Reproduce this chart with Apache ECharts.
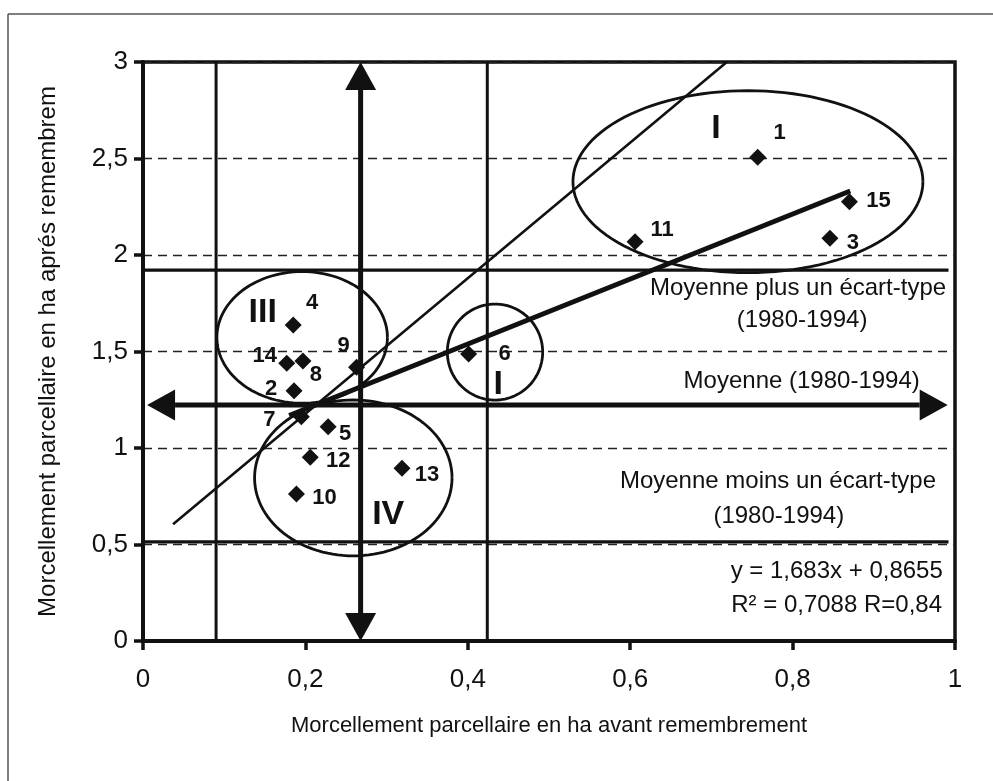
<!DOCTYPE html>
<html><head><meta charset="utf-8">
<script src="https://cdn.jsdelivr.net/npm/echarts@6/dist/echarts.min.js"></script>
<style>html,body{margin:0;padding:0;background:#fff}#c{width:993px;height:781px}</style>
</head><body><div id="c"></div>
<script>
// ---------------- DATA ----------------
const pointNames = ['1','2','3','4','5','6','7','8','9','10','11','12','13','14','15'];
const pointX = [0.757,0.186,0.846,0.185,0.228,0.401,0.195,0.197,0.263,0.189,0.606,0.206,0.319,0.177,0.870];
const pointY = [2.506,1.297,2.087,1.637,1.110,1.487,1.162,1.451,1.418,0.762,2.069,0.952,0.895,1.439,2.276];
const xTicks = [0,0.2,0.4,0.6,0.8,1];
const yTicks = [0,0.5,1,1.5,2,2.5,3];
const regSlope = 1.683, regIntercept = 0.8655;
const regXRange = [0.18, 0.871];
const regEquation = 'y = 1,683x + 0,8655';
const regCoef = 'R² = 0,7088 R=0,84';
const meanY = 1.223, meanPlusSD = 1.922, meanMinusSD = 0.514;
const meanX = 0.268;
const verticalRefs = [0.09, 0.424];
const refXEnd = 0.992;
const diagonalLine = [[0.037, 0.605], [0.719, 3.0]];
const groupNames = ['I','III','IV','I'];
const groupCX = [0.745, 0.196, 0.259, 0.4335];
const groupCY = [2.380, 1.573, 0.845, 1.497];
const groupRX = [0.2155, 0.105, 0.1216, 0.0587];
const groupRY = [0.4715, 0.341, 0.404, 0.2487];
const noteTexts = ['Moyenne plus un écart-type','(1980-1994)','Moyenne (1980-1994)','Moyenne moins un écart-type','(1980-1994)', regEquation, regCoef];
const xTitle = 'Morcellement parcellaire en ha avant remembrement';
const yTitle = 'Morcellement parcellaire en ha aprés remembrem';

// ---------------- LAYOUT / STYLE ----------------
const FONT = '"Liberation Sans", Arial, sans-serif';
const INK = '#111';
const labelOffsets = [[22,-24],[-23,-2],[23,5],[19,-22],[17,7],[36,0],[-32,3],[13,14],[-13,-21],[28,4],[27,-12],[28,4],[25,7],[-22,-7],[29,-1]];
const groupLabelPos = [[0.7057,2.653],[0.1474,1.70],[0.302,0.653],[0.4376,1.326]];
const notePos = [[0.8067,1.829,'center'],[0.8116,1.663,'center'],[0.8112,1.3435,'center'],[0.782,0.825,'center'],[0.783,0.644,'center'],[0.985,0.359,'right'],[0.984,0.1865,'right']];

const fmt = v => String(+v.toFixed(2)).replace('.', ',');

const scatterData = pointNames.map((n, i) => ({
  name: n, value: [pointX[i], pointY[i]],
  label: { offset: labelOffsets[i] }
}));

const ellipseData = groupNames.map((n, i) => [groupCX[i], groupCY[i], groupRX[i], groupRY[i]]);
const groupLabelData = groupNames.map((n, i) => [groupLabelPos[i][0], groupLabelPos[i][1], i]);
const noteData = noteTexts.map((t, i) => [notePos[i][0], notePos[i][1], i]);
const arrowData = [[0.005, meanY, refXEnd - 0.001, meanY], [meanX, 0, meanX, 3]];

function lineSeries(data, width) {
  return { type: 'line', data: data, showSymbol: false, symbol: 'none', silent: true,
    lineStyle: { color: INK, width: width, type: 'solid', opacity: 1 }, z: 3, clip: false };
}

const option = {
  animation: false,
  backgroundColor: '#fff',
  grid: { left: 143, right: 38, top: 62, bottom: 140, show: true, borderColor: INK, borderWidth: 3.5, backgroundColor: 'transparent' },
  xAxis: {
    type: 'value', min: 0, max: 1, interval: 0.2,
    name: xTitle, nameLocation: 'middle', nameGap: 74,
    nameTextStyle: { fontFamily: FONT, fontSize: 22, color: INK },
    axisLine: { lineStyle: { color: INK, width: 4 } },
    axisTick: { show: true, length: 9, lineStyle: { color: INK, width: 3.5 } },
    axisLabel: { fontFamily: FONT, fontSize: 26, color: INK, margin: 26, formatter: v => fmt(xTicks.find(t => Math.abs(t - v) < 1e-9) ?? v) },
    splitLine: { show: false }
  },
  yAxis: {
    type: 'value', min: 0, max: 3, interval: 0.5,
    name: yTitle, nameLocation: 'middle', nameGap: 83, nameRotate: 90,
    nameTextStyle: { fontFamily: FONT, fontSize: 24, color: INK },
    axisLine: { lineStyle: { color: INK, width: 4 } },
    axisTick: { show: true, length: 9, lineStyle: { color: INK, width: 3.5 } },
    axisLabel: { fontFamily: FONT, fontSize: 26, color: INK, margin: 15, formatter: v => fmt(yTicks.find(t => Math.abs(t - v) < 1e-9) ?? v) },
    splitLine: { show: true, lineStyle: { color: '#222', width: 1.4, type: [9, 6] } }
  },
  graphic: [
    { type: 'line', shape: { x1: 8, y1: 14, x2: 8, y2: 781 }, style: { stroke: '#555', lineWidth: 1.5 }, silent: true },
    { type: 'line', shape: { x1: 8, y1: 14, x2: 993, y2: 14 }, style: { stroke: '#555', lineWidth: 1.5 }, silent: true }
  ],
  series: [
    // ellipses
    {
      type: 'custom', silent: true, clip: false, z: 2,
      data: ellipseData, encode: { x: 0, y: 1 },
      renderItem: (params, api) => {
        const cx = api.value(0), cy = api.value(1), rx = api.value(2), ry = api.value(3);
        const pts = [];
        for (let k = 0; k <= 120; k++) {
          const t = k / 120 * Math.PI * 2;
          pts.push(api.coord([cx + rx * Math.cos(t), cy + ry * Math.sin(t)]));
        }
        return { type: 'polyline', shape: { points: pts }, style: { stroke: INK, lineWidth: 2.8, fill: null } };
      }
    },
    // reference lines
    lineSeries([[0, meanPlusSD], [refXEnd, meanPlusSD]], 3.2),
    lineSeries([[0, meanMinusSD], [refXEnd, meanMinusSD]], 3.2),
    lineSeries([[verticalRefs[0], 0], [verticalRefs[0], 3]], 3),
    lineSeries([[verticalRefs[1], 0], [verticalRefs[1], 3]], 3),
    lineSeries(diagonalLine, 2.6),
    lineSeries(regXRange.map(x => [x, regSlope * x + regIntercept]), 5),
    // double arrows
    {
      type: 'custom', silent: true, clip: false, z: 4,
      data: arrowData, encode: { x: [0, 2], y: [1, 3] },
      renderItem: (params, api) => {
        const p1 = api.coord([api.value(0), api.value(1)]);
        const p2 = api.coord([api.value(2), api.value(3)]);
        const dx = p2[0] - p1[0], dy = p2[1] - p1[1];
        const len = Math.hypot(dx, dy), ux = dx / len, uy = dy / len;
        const hl = 28, hw = 15.5, nx = -uy, ny = ux;
        const b1 = [p1[0] + ux * hl, p1[1] + uy * hl], b2 = [p2[0] - ux * hl, p2[1] - uy * hl];
        return { type: 'group', children: [
          { type: 'line', shape: { x1: b1[0], y1: b1[1], x2: b2[0], y2: b2[1] }, style: { stroke: INK, lineWidth: 5 } },
          { type: 'polygon', shape: { points: [p1, [b1[0] + nx * hw, b1[1] + ny * hw], [b1[0] - nx * hw, b1[1] - ny * hw]] }, style: { fill: INK } },
          { type: 'polygon', shape: { points: [p2, [b2[0] + nx * hw, b2[1] + ny * hw], [b2[0] - nx * hw, b2[1] - ny * hw]] }, style: { fill: INK } }
        ] };
      }
    },
    // group roman numerals
    {
      type: 'custom', silent: true, clip: false, z: 5,
      data: groupLabelData, encode: { x: 0, y: 1 },
      renderItem: (params, api) => {
        const p = api.coord([api.value(0), api.value(1)]);
        return { type: 'text', x: p[0], y: p[1], style: { text: groupNames[api.value(2)], fill: INK, font: 'bold 34px ' + FONT, align: 'center', verticalAlign: 'middle' } };
      }
    },
    // notes
    {
      type: 'custom', silent: true, clip: false, z: 5,
      data: noteData, encode: { x: 0, y: 1 },
      renderItem: (params, api) => {
        const i = api.value(2);
        const p = api.coord([api.value(0), api.value(1)]);
        return { type: 'text', x: p[0], y: p[1], style: { text: noteTexts[i], fill: INK, font: '24px ' + FONT, align: notePos[i][2], verticalAlign: 'middle' } };
      }
    },
    // points
    {
      type: 'scatter', data: scatterData, symbol: 'diamond', symbolSize: 17, z: 6,
      itemStyle: { color: INK, opacity: 1 },
      label: { show: true, position: 'inside', formatter: '{b}', color: INK, opacity: 1, fontFamily: FONT, fontSize: 22, fontWeight: 'bold' },
      emphasis: { disabled: true }
    }
  ]
};

const chart = echarts.init(document.getElementById('c'), null, { renderer: 'canvas' });
chart.setOption(option);
</script>
</body></html>
